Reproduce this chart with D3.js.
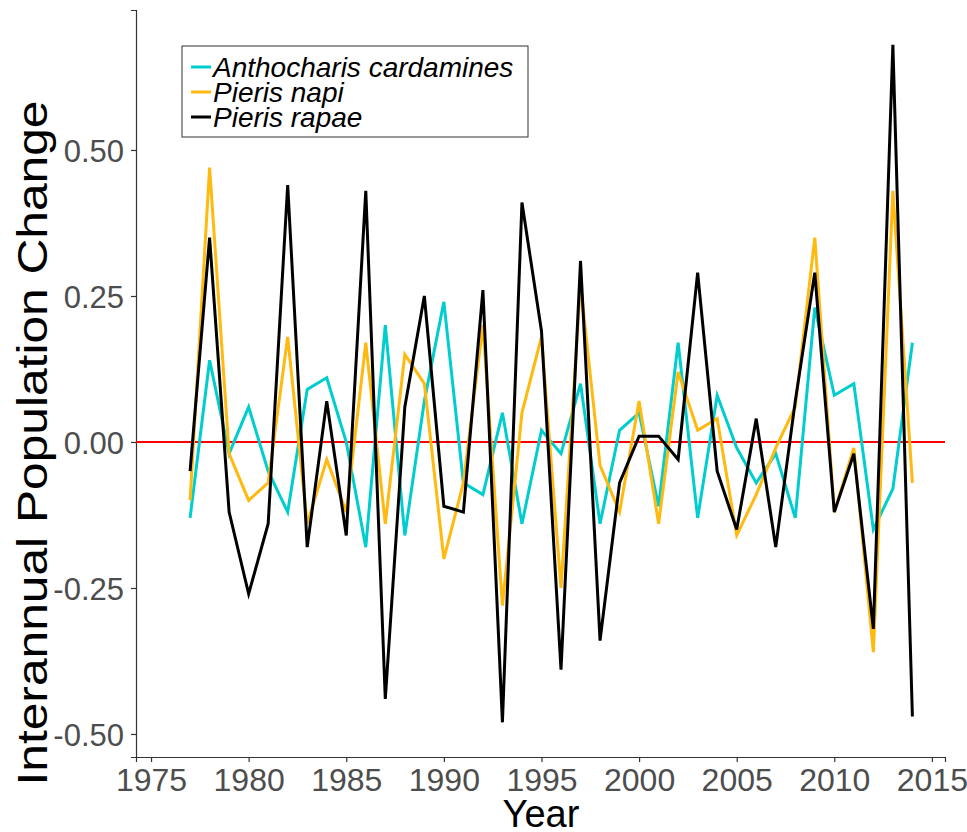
<!DOCTYPE html>
<html>
<head>
<meta charset="utf-8">
<script src="https://cdn.jsdelivr.net/npm/d3@7"></script>
<style>
  body { margin: 0; background: #fff; }
  text { font-family: "Liberation Sans", Arial, sans-serif; }
</style>
</head>
<body>
<div id="chart"></div>
<script>
const years = d3.range(1977, 2015);

const cardamines = [-0.13, 0.14, -0.02, 0.06, -0.05, -0.12, 0.09, 0.11, 0.00, -0.18,
  0.20, -0.16, 0.07, 0.24, -0.07, -0.09, 0.05, -0.14, 0.02, -0.02,
  0.10, -0.14, 0.02, 0.05, -0.11, 0.17, -0.13, 0.08, -0.01, -0.07,
  -0.02, -0.13, 0.23, 0.08, 0.10, -0.15, -0.08, 0.17];

const napi = [-0.10, 0.47, -0.02, -0.10, -0.07, 0.18, -0.14, -0.03, -0.12, 0.17,
  -0.14, 0.15, 0.10, -0.20, -0.07, 0.20, -0.28, 0.05, 0.18, -0.25,
  0.27, -0.04, -0.12, 0.07, -0.14, 0.12, 0.02, 0.04, -0.16, -0.09,
  -0.01, 0.06, 0.35, -0.12, -0.01, -0.36, 0.43, -0.07];

const rapae = [-0.05, 0.35, -0.12, -0.26, -0.14, 0.44, -0.18, 0.07, -0.16, 0.43,
  -0.44, 0.06, 0.25, -0.11, -0.12, 0.26, -0.48, 0.41, 0.19, -0.39,
  0.31, -0.34, -0.07, 0.01, 0.01, -0.03, 0.29, -0.05, -0.15, 0.04,
  -0.18, 0.07, 0.29, -0.12, -0.02, -0.32, 0.68, -0.47];

const seriesNames = ["Anthocharis cardamines", "Pieris napi", "Pieris rapae"];
const seriesColors = ["#00CDCD", "#FFB90F", "#000000"];
const xTicks = [1975, 1980, 1985, 1990, 1995, 2000, 2005, 2010, 2015];
const yTicks = [-0.50, -0.25, 0.00, 0.25, 0.50];

const series = [cardamines, napi, rapae].map((vals, i) => ({
  name: seriesNames[i],
  color: seriesColors[i],
  values: vals.map((v, j) => ({year: years[j], value: v}))
}));

const w = 967, h = 832;
const svg = d3.select("#chart").append("svg")
    .attr("width", w)
    .attr("height", h);

const x = d3.scaleLinear().domain([1974.23, 2015.67]).range([136, 945]);
const y = d3.scaleLinear().domain([-0.5394, 0.7397]).range([757, 10]);

// axes
const xAxis = svg.append("g")
    .attr("transform", "translate(0,757)")
    .call(d3.axisBottom(x).tickValues(xTicks).tickFormat(d3.format("d")).tickSizeOuter(0).tickSize(5));
xAxis.select(".domain").attr("stroke", "#333").attr("stroke-width", 1.2);
xAxis.selectAll(".tick line").attr("stroke", "#333").attr("stroke-width", 1.2);
xAxis.selectAll(".tick text")
    .attr("fill", "#4d4d4d")
    .attr("font-size", "32px")
    .attr("dy", null)
    .attr("y", 34);

const yAxis = svg.append("g")
    .attr("transform", "translate(136,0)")
    .call(d3.axisLeft(y).tickValues(yTicks)
      .tickFormat(d => d3.format(".2f")(d).replace("−", "-"))
      .tickSizeOuter(0).tickSize(5));
yAxis.select(".domain").attr("stroke", "#333").attr("stroke-width", 1.2);
yAxis.selectAll(".tick line").attr("stroke", "#333").attr("stroke-width", 1.2);
yAxis.selectAll(".tick text")
    .attr("fill", "#4d4d4d")
    .attr("font-size", "31px")
    .attr("dy", "0.38em")
    .attr("x", -12);

// zero line
svg.append("line")
    .attr("x1", 136).attr("x2", 945)
    .attr("y1", y(0)).attr("y2", y(0))
    .attr("stroke", "#ff0000")
    .attr("stroke-width", 2);

const line = d3.line()
    .x(d => x(d.year))
    .y(d => y(d.value));

svg.selectAll("path.series")
    .data(series)
    .enter()
    .append("path")
    .attr("class", "series")
    .attr("d", d => line(d.values))
    .attr("fill", "none")
    .attr("stroke", d => d.color)
    .attr("stroke-width", 3)
    .attr("stroke-linejoin", "miter");

// axis titles
svg.append("text")
    .attr("x", 541)
    .attr("y", 827)
    .attr("text-anchor", "middle")
    .attr("font-size", "38px")
    .attr("fill", "#000")
    .text("Year");

svg.append("text")
    .attr("transform", "translate(47,443) rotate(-90)")
    .attr("text-anchor", "middle")
    .attr("font-size", "42px")
    .attr("textLength", 685)
    .attr("lengthAdjust", "spacingAndGlyphs")
    .attr("fill", "#000")
    .text("Interannual Population Change");

// legend
const legend = svg.append("g").attr("transform", "translate(182,46)");
legend.append("rect")
    .attr("width", 346)
    .attr("height", 91)
    .attr("fill", "#fff")
    .attr("stroke", "#333")
    .attr("stroke-width", 1);

const items = legend.selectAll("g.item")
    .data(series)
    .enter()
    .append("g")
    .attr("class", "item")
    .attr("transform", (d, i) => "translate(0," + (21 + i * 25) + ")");

items.append("line")
    .attr("x1", 9).attr("x2", 29)
    .attr("stroke", d => d.color)
    .attr("stroke-width", 3);

items.append("text")
    .attr("x", 31)
    .attr("dy", "0.36em")
    .attr("font-size", "28px")
    .attr("font-style", "italic")
    .attr("fill", "#000")
    .text(d => d.name);
</script>
</body>
</html>
